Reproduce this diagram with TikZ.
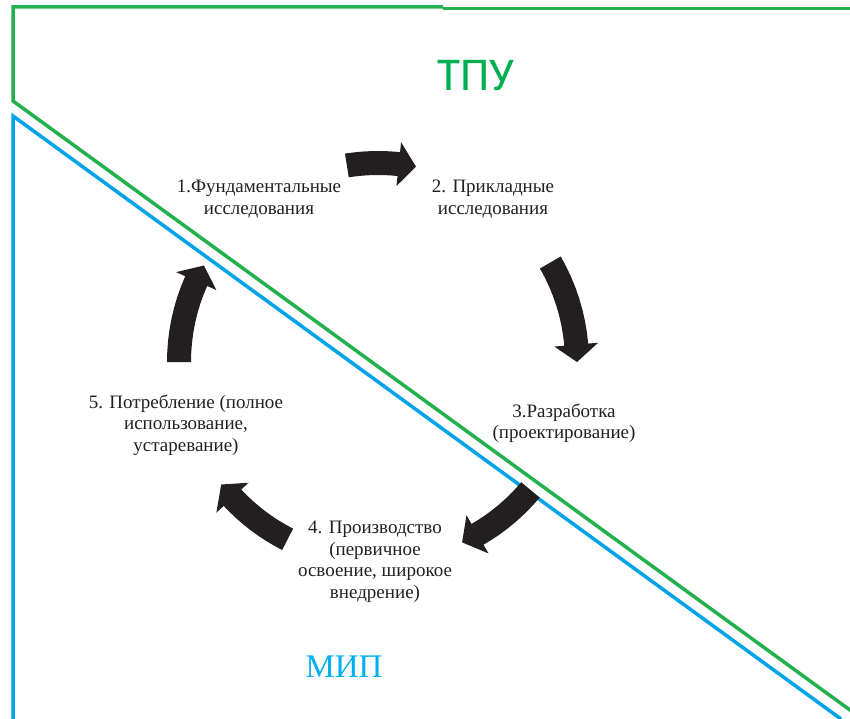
\documentclass[tikz,border=0pt]{standalone}
\usepackage{fontspec}
\setmainfont{Liberation Serif}
\newfontfamily\tpufont{Carlito}
\usetikzlibrary{calc}
\definecolor{ink}{RGB}{35,31,32}
\definecolor{tpugreen}{RGB}{34,177,76}
\definecolor{mipblue}{RGB}{0,162,232}
\definecolor{tputext}{RGB}{0,176,80}
\definecolor{miptext}{RGB}{0,176,240}
\def\cyclearrow(#1:#2){\pgfmathsetmacro\headbase{#2-5}\fill[color=ink] plot[domain=#1:\headbase,samples=9] (\x:187) -- (\headbase:177) -- (#2:199) -- (\headbase:221) -- plot[domain=\headbase:#1,samples=9] (\x:211) -- cycle;}
\tikzset{stage/.style={align=center, text=ink, inner sep=0pt, font=\fontsize{19bp}{21.5bp}\selectfont}}

\begin{document}
\begin{tikzpicture}[x=1bp,y=-1bp]
	%%%%% START %%%%%
	\useasboundingbox (0,0) rectangle (850,719);
	
	\draw[line width=3.5bp, color=tpugreen] (852,711.5) -- (13,101) -- (13,7) -- (443,7);
	\draw[line width=3.5bp, color=tpugreen] (443,8.5) -- (850,8.5);
	\draw[line width=3.5bp, color=mipblue] (13,719) -- (13,116) -- (841,719);
	
	\node[text=tputext, inner sep=0pt, font=\tpufont\fontsize{47bp}{47bp}\selectfont] (tpu) at (476,76) {ТПУ};
	\node[text=miptext, inner sep=0pt, font=\fontsize{33bp}{33bp}\selectfont] (mip) at (344,667) {МИП};
	
	\node[stage] (fund) at (259,199) {1.Фундаментальные\\исследования};
	\node[stage] (appl) at (493,199) {2. Прикладные\\исследования};
	\node[stage] (devel) at (564,423) {3.Разработка\\(проектирование)};
	\node[stage] (prod) at (375,562) {4. Производство\\(первичное\\освоение, широкое\\внедрение)};
	\node[stage] (cons) at (186,425) {5. Потребление (полное\\использование,\\устаревание)};
	
	\begin{scope}[shift={(378,362)}]
		\cyclearrow(-99:-79)
		\cyclearrow(-30:0)
		\cyclearrow(40:65)
		\cyclearrow(117:142)
		\cyclearrow(180:209)
	\end{scope}
	%%%%% END %%%%%
\end{tikzpicture}
\end{document}
